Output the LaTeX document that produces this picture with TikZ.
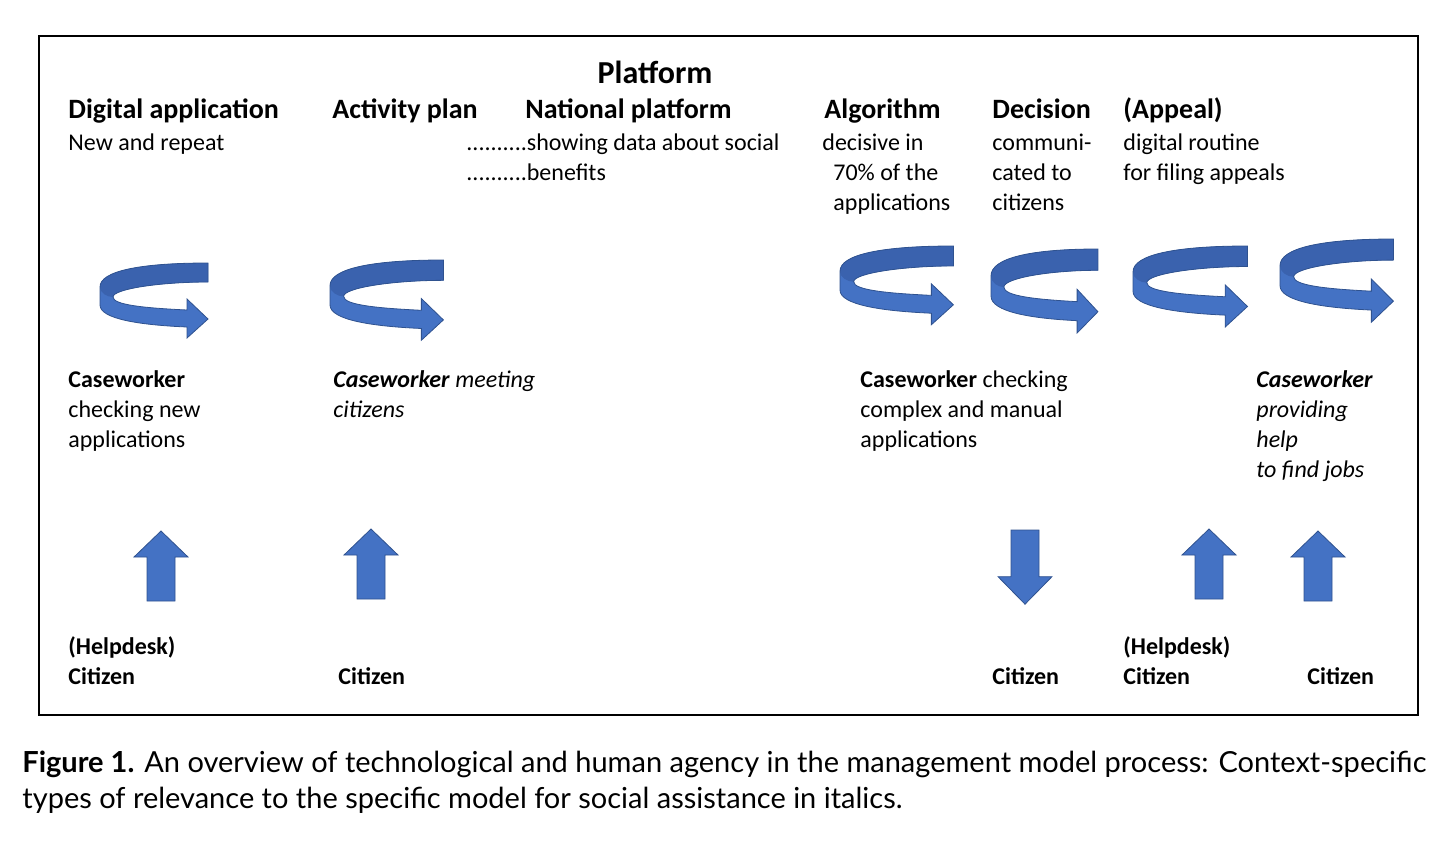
\documentclass[tikz,border=0pt]{standalone}
\usepackage{fontspec}
\setmainfont{Carlito}
\newfontfamily\capfont{Lato}
\usepackage{tikz}
\usetikzlibrary{positioning}
\definecolor{officeblue}{HTML}{4472C4}
\definecolor{officedark}{HTML}{3A62AE}
\definecolor{officeedge}{HTML}{2F528F}
\newcommand{\turnoutline}{(108,0) .. controls (40,0) and (0,8) .. (0,24) -- (0,42)
  .. controls (0,56) and (40,62) .. (87,64) -- (87,75) -- (108,56) -- (87,36) -- (87,47)
  .. controls (45,45) and (13,42) .. (13,34)
  .. controls (13,26) and (60,19) .. (108,19) -- cycle}
\tikzset{
  txt/.style={anchor=base west, inner sep=0pt, align=left, font=\fontsize{12}{15}\selectfont},
  who/.style={txt, font=\fontsize{12}{15}\selectfont\bfseries},
  head/.style={anchor=base west, inner sep=0pt, font=\fontsize{14}{17}\selectfont\bfseries},
  figcap/.style={anchor=base west, inner sep=0pt, font=\capfont\fontsize{14.5}{18}\selectfont},
  blockedge/.style={fill=officeblue, draw=officeedge, line width=0.4pt},
  turnarrow/.pic={
    \fill[officeblue] \turnoutline;
    \fill[officedark] (108,0) .. controls (40,0) and (0,8) .. (0,24)
      .. controls (0,30) and (7,34) .. (13,34)
      .. controls (13,26) and (60,19) .. (108,19) -- cycle;
    \draw[officeedge, line width=0.4pt] \turnoutline;
  },
  blockup/.pic={
    \path[blockedge] (-14,0) -- (-14,-44) -- (-27,-44) -- (0,-70) -- (27,-44) -- (14,-44) -- (14,0) -- cycle;
  }
}

\begin{document}
\begin{tikzpicture}[x=0.5pt, y=-0.5pt]
    \useasboundingbox (0,0) rectangle (1456,847);
    \draw[line width=1pt] (39,36) rectangle (1418,715);

    \node[anchor=base, inner sep=0pt, font=\fontsize{16}{19}\selectfont\bfseries] (plat) at (655,83) {Platform};
    \node[head] (dig) at (68,118) {Digital application};
    \node[head] (act) at (332,118) {Activity plan};
    \node[head] (nat) at (525,118) {National platform};
    \node[head] (alg) at (824,118) {Algorithm};
    \node[head] (dec) at (992,118) {Decision};
    \node[head] (app) at (1123,118) {(Appeal)};

    \node[txt] (digtxt) at (68,150) {New and repeat};
    \node[txt] (nattxt) at (466,180) {..........showing data about social\\..........benefits};
    \node[txt] (algtxt) at (822,210) {decisive in\\\hspace{5.5pt}70\% of the\\\hspace{5.5pt}applications};
    \node[txt] (dectxt) at (992,210) {communi-\\cated to\\citizens};
    \node[txt] (apptxt) at (1123,180) {digital routine\\for filing appeals};

    \pic (turn1) at (100,263) {turnarrow};
    \pic[xscale=1.05, yscale=1.07] (turn2) at (330,260) {turnarrow};
    \pic[xscale=1.05, yscale=1.05] (turn3) at (840,246) {turnarrow};
    \pic[xscale=0.99, yscale=1.12] (turn4) at (991,249) {turnarrow};
    \pic[xscale=1.06, yscale=1.08] (turn5) at (1133,246) {turnarrow};
    \pic[xscale=1.05, yscale=1.11] (turn6) at (1280,239) {turnarrow};

    \node[txt] (cw1) at (68,447) {\textbf{Caseworker}\\checking new\\applications};
    \node[txt] (cw2) at (333,417) {\textbf{\textit{Caseworker}} \textit{meeting}\\\textit{citizens}};
    \node[txt] (cw3) at (860,447) {\textbf{Caseworker} checking\\complex and manual\\applications};
    \node[txt] (cw4) at (1256,477) {\textbf{\textit{Caseworker}}\\\textit{providing}\\\textit{help}\\\textit{to find jobs}};

    \pic (up1) at (161,601) {blockup};
    \pic (up2) at (371,599) {blockup};
    \pic[rotate=180, yscale=1.06] (down3) at (1025,530) {blockup};
    \pic (up4) at (1209,599) {blockup};
    \pic (up5) at (1318,601) {blockup};

    \node[who] (cit1) at (68,684) {(Helpdesk)\\Citizen};
    \node[who] (cit2) at (338,684) {Citizen};
    \node[who] (cit3) at (992,684) {Citizen};
    \node[who] (cit4) at (1123,684) {(Helpdesk)\\Citizen};
    \node[who] (cit5) at (1307,684) {Citizen};

    \node[figcap] (fig1) at (22,772) {\textbf{Figure 1.} An overview of technological and human agency in the management model process: Context-specific};
    \node[figcap] (fig2) at (22,808) {types of relevance to the specific model for social assistance in italics.};
\end{tikzpicture}
\end{document}
